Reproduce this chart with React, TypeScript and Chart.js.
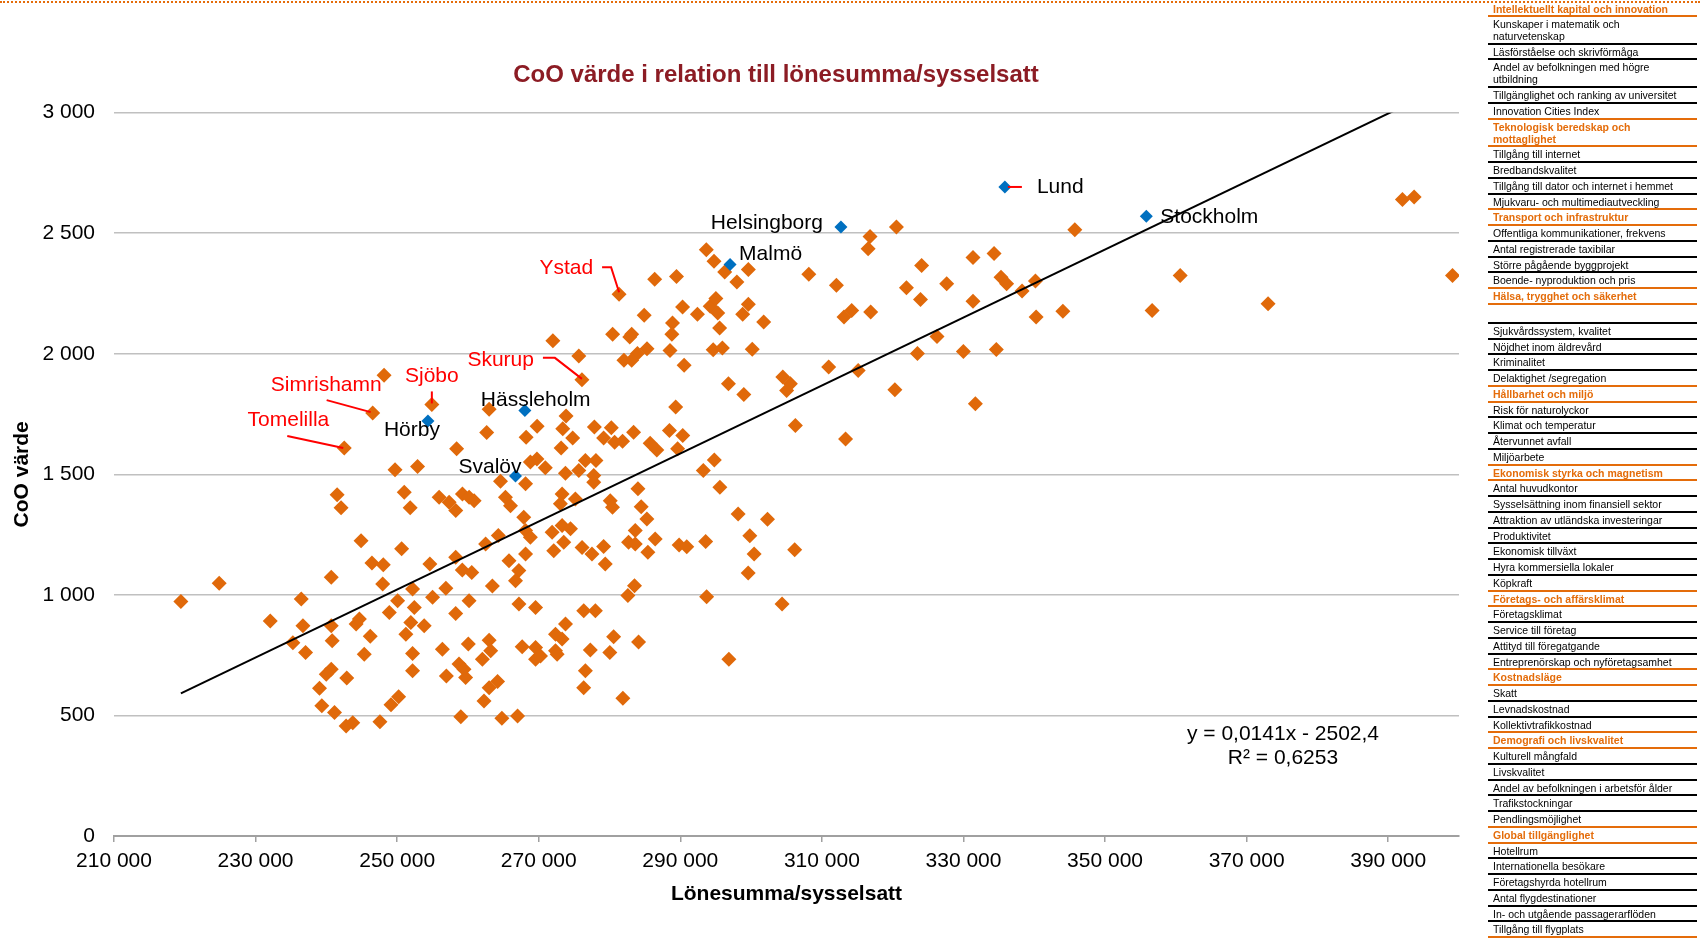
import React, { useEffect, useRef } from 'react';
import { Chart, registerables } from 'chart.js';

Chart.register(...registerables);

const FONT = '"Liberation Sans", Arial, Helvetica, sans-serif';
const ORANGE = '#E0690A';
const BLUE = '#0070C0';
const PANEL_ORANGE = '#E46C0A';
const TITLE = 'CoO värde i relation till lönesumma/sysselsatt';
const X_TITLE = 'Lönesumma/sysselsatt';
const Y_TITLE = 'CoO värde';

const X_MIN = 210000;
const X_MAX = 400000;
const Y_MIN = 0;
const Y_MAX = 3000;
const X_TICKS = [210000, 230000, 250000, 270000, 290000, 310000, 330000, 350000, 370000, 390000];
const Y_TICKS = [0, 500, 1000, 1500, 2000, 2500, 3000];

const TREND_SLOPE = 0.0141;
const TREND_INTERCEPT = -2502.4;
const TREND_R2 = '0,6253';

// Highlighted municipalities (blue markers)
const cityNames = ['Lund', 'Helsingborg', 'Malmö', 'Stockholm', 'Hörby', 'Hässleholm', 'Svalöv'];
const cityX = [335850, 312690, 297030, 355830, 254350, 268040, 266720];
const cityY = [2692, 2526, 2370, 2570, 1721, 1765, 1493];

// Orange municipalities with red labels
const markedNames = ['Ystad', 'Skurup', 'Sjöbo', 'Simrishamn', 'Tomelilla'];
const markedX = [281350, 276100, 254900, 246540, 242530];
const markedY = [2247, 1892, 1790, 1754, 1609];

// All other municipalities (orange markers)
const otherX = [
  272000, 275660, 248150, 262990, 262650, 268220, 269770, 273860, 273390, 274800,
  273160, 277860, 258400, 249700, 252880, 268140, 264600, 268820, 269750, 270930,
  273770, 275660, 276590, 273300, 273060, 275180, 265300, 266010, 267880, 259220,
  260170, 260870, 255930, 257340, 258280, 251000, 251840, 241520, 242080, 244900,
  250630, 246440, 248040, 254620, 258270, 259200, 260540, 262500, 264290, 265800,
  267190, 266720, 268140, 268140, 268820, 271890, 273300, 274490, 272120, 273530,
  276120, 277520, 267200, 269550, 276360, 263450, 260160, 258270, 255000, 256880,
  252420, 252180, 250070, 247960, 248890, 240690, 236450, 232070, 224860, 219450,
  236690,
  235270, 237060, 240690, 240820, 244200, 244660, 246200, 245350, 240690, 239980,
  242880, 239030, 239360, 241150, 242790, 243730, 247570, 249130, 250210, 251930,
  253820, 251230, 252180, 252180, 256390, 256950, 260050, 258740, 259440, 259670,
  258990, 262990, 263210, 262040, 264180, 262990, 262270, 264790, 267010, 267660,
  269550, 269550, 270250, 272370, 273300, 273780, 272370, 272600, 278000, 277290,
  276590, 276350,
  280250, 279170, 280720, 281840, 283400, 285740, 286680, 288460, 290340, 289620,
  278080, 277770, 277770, 294800, 293250, 295590, 306250, 313340, 284010, 280100,
  280420, 284470, 285280, 283630, 282690, 283630, 286450, 285420, 279170, 279400,
  289830, 290910, 293580, 298170, 302320, 299820, 300430, 306160, 299590, 283530,
  282590, 293720, 304370, 280580, 284100, 280040, 296860, 281890,
  320530, 316800, 316530, 345730, 293670, 294760, 296270, 297990, 299610, 308150,
  312050, 324090, 331350, 334320, 335300, 336100, 338280, 340170, 321940, 327630,
  323930, 331350, 340260, 344040, 356650, 286380, 289460, 284900, 290320, 292420,
  294220, 295020, 295290, 298810, 299610, 301780, 288900, 288810, 280440, 283130,
  282860, 295550, 288540, 285290, 283940, 283130, 282040, 294640, 295940, 300160,
  290540, 296800, 298970, 304480, 305550, 305020, 310960, 315130, 313120, 314210,
  316890, 320310, 326260, 323500, 329990, 334640, 331680, 289350,
  392010, 393660, 360610, 373030, 399080,
];
const otherY = [
  2054, 1991, 1911, 1770, 1674, 1654, 1699, 1742, 1689, 1651,
  1609, 1696, 1606, 1519, 1533, 1461, 1471, 1551, 1564, 1527,
  1505, 1516, 1557, 1419, 1378, 1398, 1405, 1370, 1322, 1419,
  1405, 1391, 1405, 1384, 1350, 1426, 1361, 1415, 1361, 1225,
  1191, 1132, 1125, 1128, 1156, 1103, 1093, 1211, 1246, 1142,
  1101, 1059, 1170, 1267, 1239, 1260, 1288, 1274, 1183, 1218,
  1197, 1170, 962, 948, 934, 1037, 976, 923, 990, 1028,
  948, 1024, 976, 1045, 927, 1073, 983, 892, 1048, 973,
  872,
  802, 761, 872, 810, 879, 900, 829, 754, 692, 671,
  655, 613, 540, 512, 456, 470, 474, 544, 578, 886,
  872, 837, 757, 685, 775, 664, 796, 713, 692, 657,
  495, 812, 768, 733, 641, 615, 560, 488, 498, 785,
  782, 733, 747, 837, 817, 879, 768, 754, 934, 771,
  685, 615,
  1693, 1651, 1633, 1637, 1675, 1629, 1601, 1682, 1661, 1606,
  1557, 1495, 1467, 1560, 1516, 1447, 1703, 1647, 1440, 1391,
  1364, 1366, 1315, 1267, 1218, 1211, 1232, 1177, 1201, 1128,
  1207, 1200, 1222, 1336, 1314, 1245, 1170, 1187, 1091, 1038,
  997, 992, 962, 826, 805, 761, 733, 571,
  2526, 2487, 2436, 2515, 2432, 2384, 2339, 2298, 2350, 2330,
  2284, 2366, 2399, 2416, 2318, 2291, 2260, 2302, 2274, 2291,
  2225, 2218, 2153, 2176, 2180, 2309, 2321, 2160, 2194, 2164,
  2197, 2229, 2169, 2164, 2205, 2132, 2128, 2081, 2081, 2081,
  2070, 2107, 2014, 2021, 2001, 1973, 1973, 2017, 2024, 2019,
  1952, 1876, 1831, 1904, 1876, 1848, 1945, 1931, 2153, 2180,
  2173, 1851, 2072, 2001, 2010, 2018, 1793, 1779,
  2640, 2650, 2325, 2208, 2325,
];

// Side panel (category list)
const panelHeaders = [
  'Intellektuellt kapital och innovation',
  'Teknologisk beredskap och\nmottaglighet',
  'Transport och infrastruktur',
  'Hälsa, trygghet och säkerhet',
  'Hållbarhet och miljö',
  'Ekonomisk styrka och magnetism',
  'Företags- och affärsklimat',
  'Kostnadsläge',
  'Demografi och livskvalitet',
  'Global tillgänglighet',
];
const panelItems = [
  ['Kunskaper i matematik och\nnaturvetenskap', 'Läsförståelse och skrivförmåga', 'Andel av befolkningen med högre\nutbildning', 'Tillgänglighet och ranking av universitet', 'Innovation Cities Index'],
  ['Tillgång till internet', 'Bredbandskvalitet', 'Tillgång till dator och internet i hemmet', 'Mjukvaru- och multimediautveckling'],
  ['Offentliga kommunikationer, frekvens', 'Antal registrerade taxibilar', 'Större pågående byggprojekt', 'Boende- nyproduktion och pris'],
  ['', 'Sjukvårdssystem, kvalitet', 'Nöjdhet inom äldrevård', 'Kriminalitet', 'Delaktighet /segregation'],
  ['Risk för naturolyckor', 'Klimat och temperatur', 'Återvunnet avfall', 'Miljöarbete'],
  ['Antal huvudkontor', 'Sysselsättning inom finansiell sektor', 'Attraktion av utländska investeringar', 'Produktivitet', 'Ekonomisk tillväxt', 'Hyra kommersiella lokaler', 'Köpkraft'],
  ['Företagsklimat', 'Service till företag', 'Attityd till föregatgande', 'Entreprenörskap och nyföretagsamhet'],
  ['Skatt', 'Levnadskostnad', 'Kollektivtrafikkostnad'],
  ['Kulturell mångfald', 'Livskvalitet', 'Andel av befolkningen i arbetsför ålder', 'Trafikstockningar', 'Pendlingsmöjlighet'],
  ['Hotellrum', 'Internationella besökare', 'Företagshyrda hotellrum', 'Antal flygdestinationer', 'In- och utgående passagerarflöden', 'Tillgång till flygplats'],
];

// Label placement (pixel offsets from the marker)
const LABEL_STYLE: Record<string, any> = {
  Lund: { dx: 32, dy: 0, align: 'left', color: '#000', leader: [[3, 0], [17, 0]] },
  Helsingborg: { dx: -18, dy: -4, align: 'right', color: '#000' },
  'Malmö': { dx: 9, dy: -10, align: 'left', color: '#000' },
  Stockholm: { dx: 14, dy: 1, align: 'left', color: '#000' },
  'Hörby': { dx: -44, dy: 9, align: 'left', color: '#000' },
  'Hässleholm': { dx: -44, dy: -10, align: 'left', color: '#000' },
  'Svalöv': { dx: -57, dy: -9, align: 'left', color: '#000' },
  Ystad: { dx: -26, dy: -26, align: 'right', color: '#FF0000', leader: [[-17, -27], [-8, -27], [0, -2]] },
  Skurup: { dx: -48, dy: -20, align: 'right', color: '#FF0000', leader: [[-39, -22], [-27, -22], [0, -1]] },
  'Sjöbo': { dx: 0, dy: -28, align: 'center', color: '#FF0000', leader: [[0, -13], [0, -1]] },
  Simrishamn: { dx: 9, dy: -28, align: 'right', color: '#FF0000', leader: [[-46, -13], [-2, -1]] },
  Tomelilla: { dx: -15, dy: -28, align: 'right', color: '#FF0000', leader: [[-57, -12], [-1, 0]] },
};

const fmt = (v: number) => String(Math.round(v)).replace(/\B(?=(\d{3})+(?!\d))/g, ' ');

const annotPlugin = {
  id: 'annot',
  afterDatasetsDraw(chart: any) {
    const { ctx, chartArea } = chart;
    const xs = chart.scales.x;
    const ys = chart.scales.y;
    ctx.save();
    // Title
    ctx.font = `bold 24px ${FONT}`;
    ctx.fillStyle = '#8C1C24';
    ctx.textAlign = 'center';
    ctx.textBaseline = 'middle';
    ctx.fillText(TITLE, 776, 75);

    const all: [string, number, number][] = [];
    cityNames.forEach((n, i) => all.push([n, cityX[i], cityY[i]]));
    markedNames.forEach((n, i) => all.push([n, markedX[i], markedY[i]]));
    ctx.font = `21px ${FONT}`;
    all.forEach(([name, vx, vy]) => {
      const st = LABEL_STYLE[name];
      if (!st) return;
      const px = xs.getPixelForValue(vx);
      const py = ys.getPixelForValue(vy);
      if (st.leader) {
        ctx.strokeStyle = '#FF0000';
        ctx.lineWidth = 2;
        ctx.beginPath();
        st.leader.forEach((p: number[], k: number) => {
          if (k === 0) ctx.moveTo(px + p[0], py + p[1]);
          else ctx.lineTo(px + p[0], py + p[1]);
        });
        ctx.stroke();
      }
      ctx.fillStyle = st.color;
      ctx.textAlign = st.align;
      ctx.fillText(name, px + st.dx, py + st.dy);
    });

    // Trendline equation
    ctx.fillStyle = '#000';
    ctx.textAlign = 'center';
    const eq = `y = ${String(TREND_SLOPE).replace('.', ',')}x - ${String(-TREND_INTERCEPT).replace('.', ',')}`;
    ctx.fillText(eq, chartArea.right - 176, chartArea.bottom - 102);
    ctx.fillText(`R² = ${TREND_R2}`, chartArea.right - 176, chartArea.bottom - 78);
    ctx.restore();
  },
};

function Panel() {
  const rows: { kind: string; text: string }[] = [];
  panelHeaders.forEach((h, i) => {
    rows.push({ kind: 'h', text: h });
    panelItems[i].forEach((t) => rows.push({ kind: t === '' ? 'b' : 'i', text: t }));
  });
  return (
    <div style={{ position: 'absolute', left: 1488, top: 1.2, width: 209, fontFamily: FONT, fontSize: 10.5 }}>
      {rows.map((r, i) => {
        const next = rows[i + 1];
        const orangeLine = r.kind === 'h' || !next || next.kind === 'h';
        const base: any = {
          borderBottom: `2px solid ${orangeLine ? PANEL_ORANGE : '#000'}`,
          paddingLeft: 5,
          whiteSpace: 'pre',
        };
        if (r.kind === 'b') {
          return <div key={i} style={{ ...base, height: 17 }} />;
        }
        return (
          <div
            key={i}
            style={{
              ...base,
              paddingTop: i === 0 ? 1.8 : 0.88,
              paddingBottom: i === 0 ? 0 : 0.88,
              lineHeight: '12px',
              color: r.kind === 'h' ? PANEL_ORANGE : '#000',
              fontWeight: r.kind === 'h' ? 'bold' : 'normal',
            }}
          >
            {r.text}
          </div>
        );
      })}
    </div>
  );
}

export default function App() {
  const ref = useRef<HTMLCanvasElement>(null);
  useEffect(() => {
    const orangeData = otherX.map((x, i) => ({ x, y: otherY[i] }))
      .concat(markedX.map((x, i) => ({ x, y: markedY[i] })));
    const blueData = cityX.map((x, i) => ({ x, y: cityY[i] }));
    const allX = otherX.concat(markedX, cityX);
    const tMin = Math.min(...allX);
    const tMax = Math.max(...allX);
    const trendData = [
      { x: tMin, y: TREND_SLOPE * tMin + TREND_INTERCEPT },
      { x: tMax, y: TREND_SLOPE * tMax + TREND_INTERCEPT },
    ];
    const chart = new Chart(ref.current as HTMLCanvasElement, {
      type: 'scatter',
      data: {
        datasets: [
          { label: 'Trend', data: trendData, showLine: true, borderColor: '#000', borderWidth: 2, pointRadius: 0, fill: false } as any,
          { label: 'Utvalda', data: blueData, backgroundColor: BLUE, borderWidth: 0, pointStyle: 'rectRot', pointRadius: 6.5 } as any,
          { label: 'Kommuner', data: orangeData, backgroundColor: ORANGE, borderWidth: 0, pointStyle: 'rectRot', pointRadius: 7.5 } as any,
        ],
      },
      options: {
        responsive: false,
        animation: false,
        devicePixelRatio: 1,
        events: [],
        layout: { padding: { left: 0, right: 21, top: 112.7, bottom: 0 } },
        plugins: { legend: { display: false }, tooltip: { enabled: false }, title: { display: false } },
        scales: {
          x: {
            type: 'linear',
            min: X_MIN,
            max: X_MAX,
            afterBuildTicks: (s: any) => { s.ticks = X_TICKS.map((v) => ({ value: v })); },
            afterFit: (s: any) => { s.height = 103; },
            ticks: { autoSkip: false, maxRotation: 0, padding: 7.1, color: '#000', font: { size: 21, family: FONT }, callback: (v: any) => fmt(Number(v)) },
            grid: { drawOnChartArea: false, drawTicks: true, tickLength: 6, color: '#A0A0A0', lineWidth: 1.5 },
            border: { display: true, color: '#A0A0A0', width: 2 },
            title: { display: true, text: X_TITLE, color: '#000', font: { size: 21, weight: 'bold', family: FONT }, padding: { top: 0, bottom: 31.9 } },
          },
          y: {
            type: 'linear',
            min: Y_MIN,
            max: Y_MAX,
            afterBuildTicks: (s: any) => { s.ticks = Y_TICKS.map((v) => ({ value: v })); },
            afterFit: (s: any) => { s.width = 114; },
            ticks: { padding: 19, color: '#000', font: { size: 21, family: FONT }, callback: (v: any) => fmt(Number(v)) },
            grid: { color: '#C0C0C0', lineWidth: 1.5, drawTicks: false },
            border: { display: false },
            title: { display: true, text: Y_TITLE, color: '#000', font: { size: 21, weight: 'bold', family: FONT }, padding: { top: 10.1, bottom: 0 } },
          },
        },
      } as any,
      plugins: [annotPlugin],
    });
    return () => chart.destroy();
  }, []);

  return (
    <div style={{ position: 'absolute', left: 0, top: 0, width: 1700, height: 939, background: '#fff', overflow: 'hidden' }}>
      <canvas ref={ref} width={1480} height={939} style={{ position: 'absolute', left: 0, top: 0, width: 1480, height: 939 }} />
      <div style={{ position: 'absolute', left: 0, top: 1, width: 1700, borderTop: `2px dotted ${PANEL_ORANGE}` }} />
      <Panel />
    </div>
  );
}
